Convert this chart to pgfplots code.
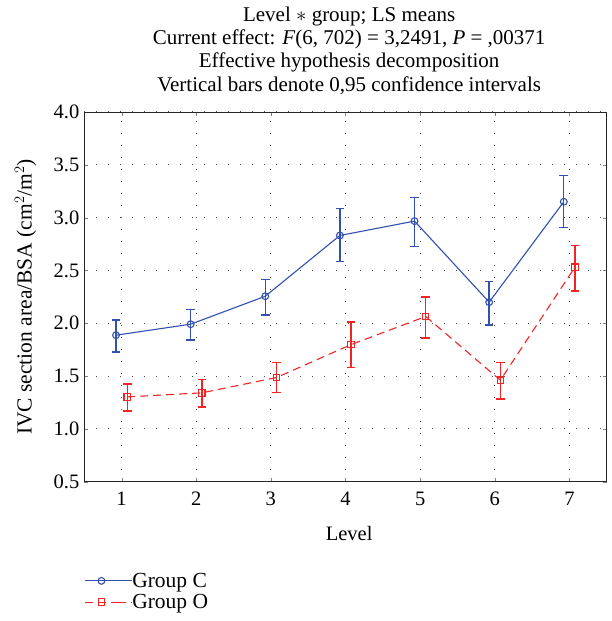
\documentclass[border=0pt]{standalone}
\usepackage{pgfplots}
\pgfplotsset{compat=1.18}
\usepackage{pgfplotstable}
\usepackage{fontspec}
\setmainfont{Liberation Serif}
\definecolor{cblue}{RGB}{50,80,175}
\definecolor{cred}{RGB}{245,35,35}
% means
\pgfplotstableread{
x y
0.925 1.887
1.925 1.991
2.925 2.256
3.925 2.831
4.925 2.967
5.925 2.200
6.925 3.150
}\groupC
\pgfplotstableread{
x y
1.075 1.303
2.075 1.341
3.075 1.486
4.075 1.798
5.075 2.064
6.075 1.461
7.075 2.531
}\groupO
% 0.95 confidence intervals (lower, upper end of each bar)
\pgfplotstableread{
x y
0.925 1.729
0.925 2.029
nan nan
1.925 1.843
1.925 2.130
nan nan
2.925 2.080
2.925 2.414
nan nan
3.925 2.582
3.925 3.084
nan nan
4.925 2.724
4.925 3.191
nan nan
5.925 1.985
5.925 2.395
nan nan
6.925 2.904
6.925 3.397
}\ciC
\pgfplotstableread{
x y
1.075 1.170
1.075 1.426
nan nan
2.075 1.208
2.075 1.467
nan nan
3.075 1.344
3.075 1.628
nan nan
4.075 1.584
4.075 2.013
nan nan
5.075 1.859
5.075 2.250
nan nan
6.075 1.284
6.075 1.628
nan nan
7.075 2.307
7.075 2.737
}\ciO
\begin{document}
\begin{tikzpicture}
\useasboundingbox (-84.3pt,-139.3pt) rectangle (527.7pt,481.7pt);
\begin{axis}[
  at={(0,0)}, anchor=south west,
  scale only axis, width=522.4pt, height=369.7pt,
  xmin=0.5, xmax=7.5, ymin=0.5, ymax=4.0,
  xtick={1,2,3,4,5,6,7},
  ytick={0.5,1.0,1.5,2.0,2.5,3.0,3.5,4.0},
  tick align=inside, major tick length=3.5pt,
  axis line style={line width=0.9pt, black!85},
  grid=major,
  major grid style={black!70, line width=1.1pt, dash pattern=on 1.1pt off 10.9pt},
  unbounded coords=jump,
  /pgf/number format/assume math mode=true,
  yticklabel style={/pgf/number format/fixed, /pgf/number format/fixed zerofill, /pgf/number format/precision=1, xshift=-1.5pt},
  ticklabel style={font=\fontsize{20.5}{24}\selectfont, black},
  xticklabel style={yshift=-6.5pt},
  xlabel={Level},
  xlabel style={at={(axis description cs:0.507,-0.1585)}, anchor=base, font=\fontsize{20.5}{24}\selectfont},
  ylabel={IVC section area/BSA (cm$^2$/m$^2$)},
  ylabel style={at={(axis description cs:-0.1007,0.5)}, anchor=base, font=\fontsize{21.5}{24}\selectfont},
  every axis title shift=0pt,
  title={Level $\ast$ group; LS means\\Current effect: \textit{F}(6, 702) = 3,2491, \textit{P} = ,00371\\Effective hypothesis decomposition\\Vertical bars denote 0,95 confidence intervals},
  title style={at={(axis description cs:0.507,1)}, anchor=south, align=center, inner sep=0pt, yshift=17.5pt, font=\fontsize{21}{23.2}\selectfont},
  legend style={at={(axis description cs:0,-0.2464)}, anchor=north west, draw=none, fill=none, cells={anchor=west}, font=\fontsize{21.5}{24}\selectfont, row sep=5.5pt, inner sep=0pt, column sep=0pt, nodes={inner ysep=0pt, inner xsep=0pt}},
  legend image code/.code={%
    \draw[mark repeat=2,mark phase=2] plot coordinates {(0pt,0pt)(16.4pt,0pt)(32.7pt,0pt)};
    \path (32.7pt,0pt) -- (46.7pt,0pt);},
]
% confidence interval bars and their end caps
\addplot[draw=cblue, color=cblue, line width=1.4pt, solid, no markers, forget plot] table[x=x, y=y]{\ciC};
\addplot[cblue, only marks, mark=-, mark size=4.3pt, mark options={draw=cblue, line width=1.4pt, solid}, forget plot] table[x=x, y=y]{\ciC};
\addplot[draw=cred, color=cred, line width=1.4pt, solid, no markers, forget plot] table[x=x, y=y]{\ciO};
\addplot[cred, only marks, mark=-, mark size=4.3pt, mark options={draw=cred, line width=1.4pt, solid}, forget plot] table[x=x, y=y]{\ciO};
% means
\addplot[cblue, line width=1.1pt, mark=o, mark size=3.4pt, mark options={fill=white, solid}]
  table[x=x, y=y]{\groupC};
\addlegendentry{Group C}
\addplot[cred, line width=1.1pt, dash pattern=on 8pt off 5pt, mark=square, mark size=3.2pt, mark options={fill=white, solid}]
  table[x=x, y=y]{\groupO};
\addlegendentry{Group O}
\end{axis}
\end{tikzpicture}
\end{document}
